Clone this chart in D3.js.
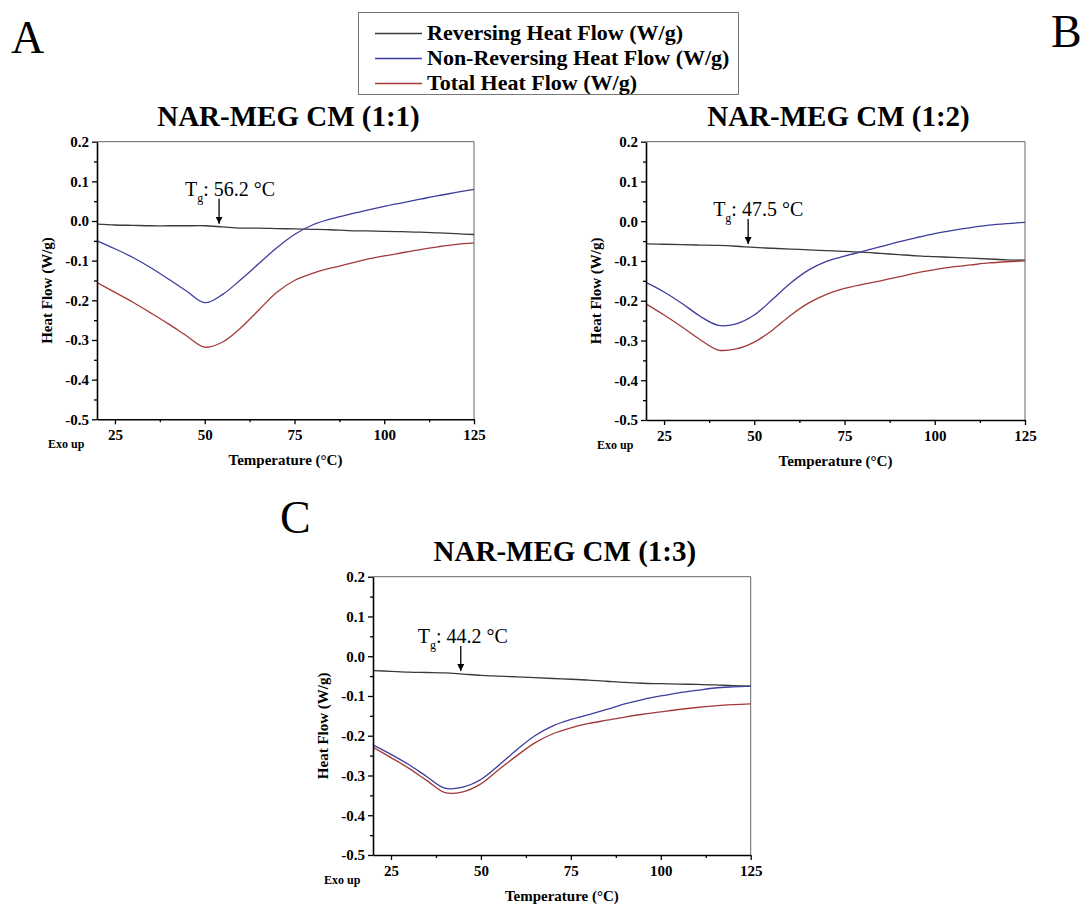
<!DOCTYPE html>
<html>
<head>
<meta charset="utf-8">
<script src="https://cdn.jsdelivr.net/npm/d3@7"></script>
<style>
  html, body { margin: 0; padding: 0; background: #fff; }
  svg { display: block; }
  text { font-family: "Liberation Serif", "Times New Roman", serif; fill: #000; }
</style>
</head>
<body>
<svg id="chart" width="1082" height="904"></svg>
<script>
// Temperature grid shared by all three MDSC scans (°C)
const temps = [20, 25, 30, 35, 40, 45, 50, 55, 60, 65, 70, 75, 80, 85, 90, 95, 100, 105, 110, 115, 120, 125];

// NAR-MEG CM (1:1)
const revA   = [-0.008, -0.010, -0.011, -0.012, -0.012, -0.012, -0.012, -0.015, -0.018, -0.018, -0.019, -0.020, -0.021, -0.022, -0.024, -0.025, -0.026, -0.027, -0.028, -0.030, -0.032, -0.034];
const nonRevA = [-0.050, -0.070, -0.092, -0.118, -0.147, -0.177, -0.206, -0.185, -0.148, -0.108, -0.068, -0.034, -0.010, 0.005, 0.016, 0.027, 0.037, 0.046, 0.055, 0.064, 0.072, 0.080];
const totalA = [-0.155, -0.180, -0.205, -0.232, -0.260, -0.290, -0.318, -0.305, -0.270, -0.225, -0.180, -0.150, -0.132, -0.119, -0.108, -0.097, -0.088, -0.080, -0.072, -0.065, -0.059, -0.055];

// NAR-MEG CM (1:2)
const revB   = [-0.057, -0.058, -0.059, -0.060, -0.061, -0.063, -0.066, -0.068, -0.070, -0.072, -0.074, -0.076, -0.078, -0.081, -0.084, -0.087, -0.089, -0.091, -0.093, -0.095, -0.097, -0.098];
const nonRevB = [-0.154, -0.178, -0.207, -0.239, -0.262, -0.258, -0.236, -0.197, -0.156, -0.123, -0.101, -0.088, -0.076, -0.064, -0.052, -0.041, -0.031, -0.023, -0.016, -0.010, -0.006, -0.003];
const totalB = [-0.208, -0.236, -0.266, -0.298, -0.324, -0.321, -0.304, -0.274, -0.237, -0.206, -0.184, -0.169, -0.159, -0.150, -0.140, -0.130, -0.122, -0.115, -0.110, -0.105, -0.102, -0.100];

// NAR-MEG CM (1:3)
const revC   = [-0.036, -0.038, -0.040, -0.041, -0.042, -0.045, -0.048, -0.050, -0.052, -0.054, -0.056, -0.058, -0.060, -0.063, -0.066, -0.068, -0.069, -0.070, -0.071, -0.072, -0.074, -0.075];
const nonRevC = [-0.223, -0.247, -0.273, -0.303, -0.332, -0.329, -0.310, -0.274, -0.235, -0.200, -0.175, -0.159, -0.147, -0.134, -0.120, -0.109, -0.100, -0.092, -0.086, -0.080, -0.077, -0.075];
const totalC = [-0.229, -0.255, -0.282, -0.313, -0.343, -0.341, -0.321, -0.285, -0.250, -0.218, -0.195, -0.180, -0.169, -0.161, -0.153, -0.146, -0.140, -0.134, -0.129, -0.125, -0.122, -0.120];

// Axis ticks and labels
const xTicks = [25, 50, 75, 100, 125];
const xMinorTicks = [37.5, 62.5, 87.5, 112.5];
const yTicks = [-0.5, -0.4, -0.3, -0.2, -0.1, 0.0, 0.1, 0.2];
const yTickLabels = ["-0.5", "-0.4", "-0.3", "-0.2", "-0.1", "0.0", "0.1", "0.2"];
const yMinorTicks = [-0.45, -0.35, -0.25, -0.15, -0.05, 0.05, 0.15];

// Series names and glass-transition annotations
const seriesNames = ["Reversing Heat Flow (W/g)", "Non-Reversing Heat Flow (W/g)", "Total Heat Flow (W/g)"];
const seriesColors = ["#3a3a3a", "#3d3d9e", "#a33a3a"];
const panelTitles = ["NAR-MEG CM (1:1)", "NAR-MEG CM (1:2)", "NAR-MEG CM (1:3)"];
const panelLetters = ["A", "B", "C"];
const tgValues = ["56.2", "47.5", "44.2"];
const tgArrowTemps = [54.0, 48.3, 44.4];

const SERIF = '"Liberation Serif", "Times New Roman", serif';
const svg = d3.select("#chart");

const panels = [
  { left: 97,  right: 474,  top: 141.7, bottom: 419.3, series: [revA, nonRevA, totalA], labelDx: -34 },
  { left: 646, right: 1025, top: 141.7, bottom: 420,   series: [revB, nonRevB, totalB], labelDx: -35 },
  { left: 373, right: 750.7, top: 576.7, bottom: 855,  series: [revC, nonRevC, totalC], labelDx: -43 }
];

svg.append("defs").append("marker")
  .attr("id", "arrowhead")
  .attr("viewBox", "0 0 10 10")
  .attr("refX", 10).attr("refY", 5)
  .attr("markerWidth", 7).attr("markerHeight", 7)
  .attr("markerUnits", "userSpaceOnUse")
  .attr("orient", "auto")
  .append("path").attr("d", "M0,0 L10,5 L0,10 z").attr("fill", "#000");

panels.forEach((p, i) => {
  const x = d3.scaleLinear().domain([20, 125]).range([p.left, p.right]);
  const y = d3.scaleLinear().domain([-0.5, 0.2]).range([p.bottom, p.top]);
  const g = svg.append("g");

  // frame: thin top/right border
  g.append("path")
    .attr("d", `M${p.left},${p.top} H${p.right} V${p.bottom}`)
    .attr("fill", "none").attr("stroke", "#666").attr("stroke-width", 1);

  // curves
  const line = d3.line().x(d => x(d[0])).y(d => y(d[1])).curve(d3.curveCatmullRom.alpha(0.5));
  p.series.forEach((vals, k) => {
    g.append("path")
      .datum(temps.map((t, j) => [t, vals[j]]))
      .attr("d", line)
      .attr("fill", "none")
      .attr("stroke", seriesColors[k])
      .attr("stroke-width", 1.3);
  });

  // x axis
  const xAxis = g.append("g").attr("transform", `translate(0,${p.bottom})`)
    .call(d3.axisBottom(x).tickValues(xTicks).tickSize(5).tickSizeOuter(0).tickPadding(5).tickFormat(d3.format("d")));
  g.append("g").attr("transform", `translate(0,${p.bottom})`)
    .call(d3.axisBottom(x).tickValues(xMinorTicks).tickSize(3).tickSizeOuter(0).tickFormat(""))
    .call(a => a.select(".domain").remove());

  // y axis
  const yAxis = g.append("g").attr("transform", `translate(${p.left},0)`)
    .call(d3.axisLeft(y).tickValues(yTicks).tickSize(5).tickSizeOuter(0).tickPadding(3)
      .tickFormat((d, j) => yTickLabels[j]));
  g.append("g").attr("transform", `translate(${p.left},0)`)
    .call(d3.axisLeft(y).tickValues(yMinorTicks).tickSize(3).tickSizeOuter(0).tickFormat(""))
    .call(a => a.select(".domain").remove());

  [xAxis, yAxis].forEach(a => {
    a.attr("font-family", null);
    a.select(".domain").attr("stroke", "#000").attr("stroke-width", 1.6);
    a.selectAll(".tick text")
      .style("font-family", SERIF)
      .attr("font-size", 15).attr("font-weight", "bold").attr("fill", "#000");
  });
  g.selectAll(".tick line").attr("stroke", "#000").attr("stroke-width", 1.3);

  // axis titles
  const cx = (p.left + p.right) / 2;
  g.append("text")
    .attr("x", cx).attr("y", p.bottom + 46)
    .attr("text-anchor", "middle").attr("font-size", 15).attr("font-weight", "bold")
    .text("Temperature (°C)");
  g.append("text")
    .attr("transform", `translate(${p.left - 45},${(p.top + p.bottom) / 2 + 10}) rotate(-90)`)
    .attr("text-anchor", "middle").attr("font-size", 15).attr("font-weight", "bold")
    .text("Heat Flow (W/g)");
  g.append("text")
    .attr("x", p.left - 49).attr("y", p.bottom + 29)
    .attr("font-size", 12).attr("font-weight", "bold")
    .text("Exo up");

  // panel title
  g.append("text")
    .attr("x", cx + 3).attr("y", p.top - 16)
    .attr("text-anchor", "middle").attr("font-size", 29).attr("font-weight", "bold")
    .text(panelTitles[i]);

  // Tg arrow and label
  const revVals = p.series[0];
  const at = tgArrowTemps[i];
  const ax = x(at);
  const av = d3.scaleLinear().domain(temps).range(revVals)(at);
  const tipY = y(av) - 3;
  g.append("line")
    .attr("x1", ax).attr("x2", ax)
    .attr("y1", tipY - 25).attr("y2", tipY)
    .attr("stroke", "#000").attr("stroke-width", 1.3)
    .attr("marker-end", "url(#arrowhead)");
  const lbl = g.append("text")
    .attr("x", ax + p.labelDx).attr("y", tipY - 28)
    .attr("font-size", 20);
  lbl.append("tspan").text("T");
  lbl.append("tspan").attr("font-size", 12).attr("dy", 6).text("g");
  lbl.append("tspan").attr("dy", -6).text(`: ${tgValues[i]} °C`);
});

// panel letters
const letterPos = [[11, 53], [1051, 47], [280, 533]];
panelLetters.forEach((L, i) => {
  svg.append("text")
    .attr("x", letterPos[i][0]).attr("y", letterPos[i][1])
    .attr("font-size", 46)
    .text(L);
});

// legend
const legend = svg.append("g");
legend.append("rect")
  .attr("x", 358.5).attr("y", 12.5).attr("width", 380).attr("height", 82)
  .attr("fill", "#fff").attr("stroke", "#777").attr("stroke-width", 1);
seriesNames.forEach((name, k) => {
  const ly = 33.5 + k * 25;
  legend.append("line")
    .attr("x1", 375).attr("x2", 422).attr("y1", ly).attr("y2", ly)
    .attr("stroke", seriesColors[k]).attr("stroke-width", 1.5);
  legend.append("text")
    .attr("x", 427).attr("y", ly + 6.5)
    .attr("font-size", 22).attr("font-weight", "bold")
    .text(name);
});
</script>
</body>
</html>
